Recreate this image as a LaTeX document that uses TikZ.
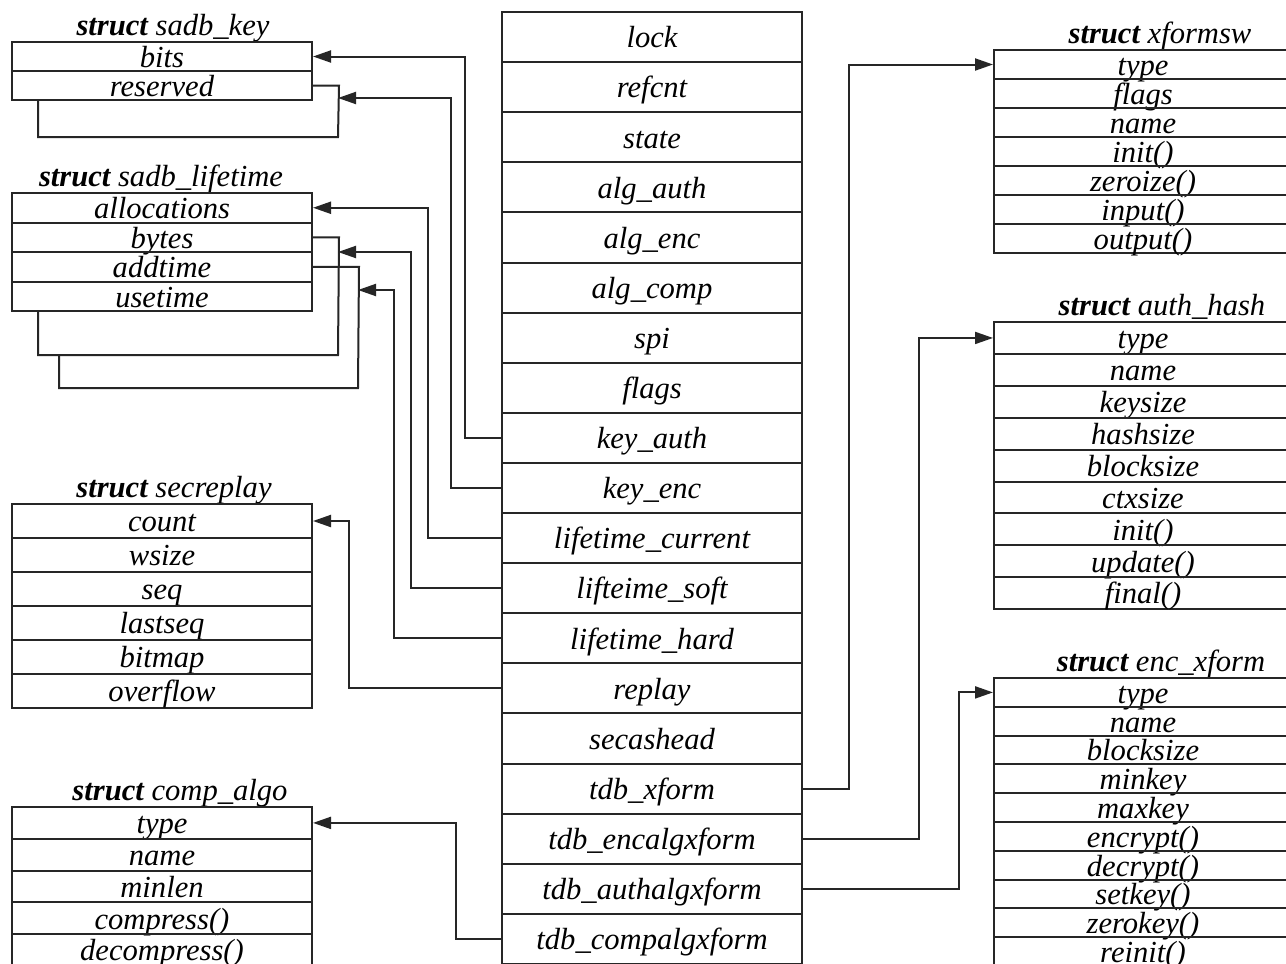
\documentclass[tikz,border=0pt]{standalone}
\usepackage{fontspec}
\setmainfont{Liberation Serif}
\usetikzlibrary{arrows.meta}
\newcommand{\cellfnt}{\fontsize{15.3}{18}\selectfont\itshape}
\tikzset{
  lin/.style={line width=1pt, draw=black!85},
  arr/.style={lin, -{Triangle[length=9pt,width=6pt]}},
  cell/.style={draw=black!85, line width=1pt, rectangle, inner sep=0pt,
    text height=0.68em, text depth=0pt, font=\cellfnt, anchor=center,
    execute at begin node={\lower2pt\hbox\bgroup},
    execute at end node={\egroup}},
  mid/.style={cell, minimum width=150pt, minimum height=25.05pt},
  lk/.style={cell, minimum width=150pt, minimum height=14.5pt},
  lt/.style={cell, minimum width=150pt, minimum height=14.75pt},
  sr/.style={cell, minimum width=150pt, minimum height=17pt},
  ca/.style={cell, minimum width=150pt, minimum height=15.9pt},
  xf/.style={cell, minimum width=149pt, minimum height=14.5pt},
  ah/.style={cell, minimum width=149pt, minimum height=15.95pt},
  ex/.style={cell, minimum width=149pt, minimum height=14.4pt},
  ttl/.style={font=\cellfnt, anchor=base, inner sep=0pt},
}
\begin{document}
\begin{tikzpicture}[x=0.5pt,y=-0.5pt]
\useasboundingbox (0,0) rectangle (1286,964);
\clip (0,0) rectangle (1286,964);
\fill[white] (0,0) rectangle (1286,964);

% central column
\node[mid] (lock) at (652,37.05) {lock};
\node[mid] (refcnt) at (652,87.15) {refcnt};
\node[mid] (state) at (652,137.25) {state};
\node[mid] (alg_auth) at (652,187.35) {alg\_auth};
\node[mid] (alg_enc) at (652,237.45) {alg\_enc};
\node[mid] (alg_comp) at (652,287.55) {alg\_comp};
\node[mid] (spi) at (652,337.65) {spi};
\node[mid] (flags) at (652,387.75) {flags};
\node[mid] (key_auth) at (652,437.85) {key\_auth};
\node[mid] (key_enc) at (652,487.95) {key\_enc};
\node[mid] (lt_cur) at (652,538.05) {lifetime\_current};
\node[mid] (lt_soft) at (652,588.15) {lifteime\_soft};
\node[mid] (lt_hard) at (652,638.25) {lifetime\_hard};
\node[mid] (replay) at (652,688.35) {replay};
\node[mid] (secashead) at (652,738.45) {secashead};
\node[mid] (tdb_xform) at (652,788.55) {tdb\_xform};
\node[mid] (tdb_enc) at (652,838.65) {tdb\_encalgxform};
\node[mid] (tdb_auth) at (652,888.75) {tdb\_authalgxform};
\node[mid] (tdb_comp) at (652,938.85) {tdb\_compalgxform};

% struct sadb_key
\node[ttl] (t-key) at (173,35) {\textbf{struct} sadb\_key};
\node[lk] (bits) at (162,56.5) {bits};
\node[lk] (reserved) at (162,85.5) {reserved};

% struct sadb_lifetime
\node[ttl] (t-lt) at (161,186) {\textbf{struct} sadb\_lifetime};
\node[lt] (alloc) at (162,207.75) {allocations};
\node[lt] (bytes) at (162,237.25) {bytes};
\node[lt] (addtime) at (162,266.75) {addtime};
\node[lt] (usetime) at (162,296.25) {usetime};

% struct secreplay
\node[ttl] (t-sr) at (174,497) {\textbf{struct} secreplay};
\node[sr] (count) at (162,521) {count};
\node[sr] (wsize) at (162,555) {wsize};
\node[sr] (seq) at (162,589) {seq};
\node[sr] (lastseq) at (162,623) {lastseq};
\node[sr] (bitmap) at (162,657) {bitmap};
\node[sr] (overflow) at (162,691) {overflow};

% struct comp_algo
\node[ttl] (t-ca) at (180,800) {\textbf{struct} comp\_algo};
\node[ca] (ca-type) at (162,822.9) {type};
\node[ca] (ca-name) at (162,854.7) {name};
\node[ca] (ca-minlen) at (162,886.5) {minlen};
\node[ca] (ca-comp) at (162,918.3) {compress()};
\node[ca] (ca-decomp) at (162,950.1) {decompress()};

% struct xformsw
\node[ttl] (t-xf) at (1160,43) {\textbf{struct} xformsw};
\node[xf] (xf-type) at (1143,64.5) {type};
\node[xf] (xf-flags) at (1143,93.5) {flags};
\node[xf] (xf-name) at (1143,122.5) {name};
\node[xf] (xf-init) at (1143,151.5) {init()};
\node[xf] (xf-zero) at (1143,180.5) {zeroize()};
\node[xf] (xf-input) at (1143,209.5) {input()};
\node[xf] (xf-output) at (1143,238.5) {output()};

% struct auth_hash
\node[ttl] (t-ah) at (1162,315) {\textbf{struct} auth\_hash};
\node[ah] (ah-type) at (1143,337.95) {type};
\node[ah] (ah-name) at (1143,369.85) {name};
\node[ah] (ah-keysize) at (1143,401.75) {keysize};
\node[ah] (ah-hashsize) at (1143,433.65) {hashsize};
\node[ah] (ah-blocksize) at (1143,465.55) {blocksize};
\node[ah] (ah-ctxsize) at (1143,497.45) {ctxsize};
\node[ah] (ah-init) at (1143,529.35) {init()};
\node[ah] (ah-update) at (1143,561.25) {update()};
\node[ah] (ah-final) at (1143,593.15) {final()};

% struct enc_xform
\node[ttl] (t-ex) at (1161,671) {\textbf{struct} enc\_xform};
\node[ex] (ex-type) at (1143,692.4) {type};
\node[ex] (ex-name) at (1143,721.2) {name};
\node[ex] (ex-blocksize) at (1143,750) {blocksize};
\node[ex] (ex-minkey) at (1143,778.8) {minkey};
\node[ex] (ex-maxkey) at (1143,807.6) {maxkey};
\node[ex] (ex-encrypt) at (1143,836.4) {encrypt()};
\node[ex] (ex-decrypt) at (1143,865.2) {decrypt()};
\node[ex] (ex-setkey) at (1143,894) {setkey()};
\node[ex] (ex-zerokey) at (1143,922.8) {zerokey()};
\node[ex] (ex-reinit) at (1143,951.6) {reinit()};

% bracket coordinates
\coordinate (kb) at (338,98);
\coordinate (lb1) at (338,252);
\coordinate (lb2) at (358,290);

% brackets (self links)
\draw[lin] (reserved.east) -- ++(26,0) -- (338,137) -| ([xshift=13.5pt]reserved.south west);
\draw[lin] (bytes.east) -- ++(26,0) -- (338,355) -| ([xshift=13.5pt]usetime.south west);
\draw[lin] (addtime.east) -- ++(46,0) -- (358,388) -| (59,355);

% left connectors
\draw[arr] (key_auth.west) -- ++(-36,0) |- (bits.east);
\draw[arr] (key_enc.west) -- ++(-50,0) |- (kb);
\draw[arr] (lt_cur.west) -- ++(-73,0) |- (alloc.east);
\draw[arr] (lt_soft.west) -- ++(-90,0) |- (lb1);
\draw[arr] (lt_hard.west) -- ++(-107,0) |- (lb2);
\draw[arr] (replay.west) -- ++(-152,0) |- (count.east);
\draw[arr] (tdb_comp.west) -- ++(-45,0) |- (ca-type.east);

% right connectors
\draw[arr] (tdb_xform.east) -- ++(46,0) |- (xf-type.west);
\draw[arr] (tdb_enc.east) -- ++(116,0) |- (ah-type.west);
\draw[arr] (tdb_auth.east) -- ++(156,0) |- (ex-type.west);
\end{tikzpicture}
\end{document}
